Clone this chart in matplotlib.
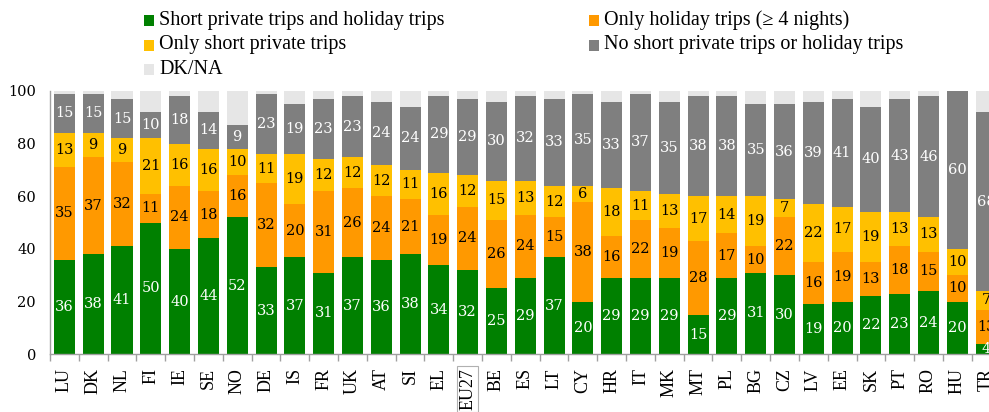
import matplotlib
matplotlib.use("Agg")
import matplotlib.pyplot as plt
from matplotlib.patches import Rectangle
import numpy as np

countries = ["LU", "DK", "NL", "FI", "IE", "SE", "NO", "DE", "IS", "FR", "UK", "AT", "SI", "EL",
             "EU27", "BE", "ES", "LT", "CY", "HR", "IT", "MK", "MT", "PL", "BG", "CZ", "LV", "EE",
             "SK", "PT", "RO", "HU", "TR"]
short_and_holiday = [36, 38, 41, 50, 40, 44, 52, 33, 37, 31, 37, 36, 38, 34,
                     32, 25, 29, 37, 20, 29, 29, 29, 15, 29, 31, 30, 19, 20,
                     22, 23, 24, 20, 4]
only_holiday = [35, 37, 32, 11, 24, 18, 16, 32, 20, 31, 26, 24, 21, 19,
                24, 26, 24, 15, 38, 16, 22, 19, 28, 17, 10, 22, 16, 19,
                13, 18, 15, 10, 13]
only_short = [13, 9, 9, 21, 16, 16, 10, 11, 19, 12, 12, 12, 11, 16,
              12, 15, 13, 12, 6, 18, 11, 13, 17, 14, 19, 7, 22, 17,
              19, 13, 13, 10, 7]
no_trips = [15, 15, 15, 10, 18, 14, 9, 23, 19, 23, 23, 24, 24, 29,
            29, 30, 32, 33, 35, 33, 37, 35, 38, 38, 35, 36, 39, 41,
            40, 43, 46, 60, 68]
dk_na = [1, 1, 3, 8, 2, 8, 13, 1, 5, 3, 2, 4, 6, 2,
         3, 4, 2, 3, 1, 4, 1, 4, 2, 2, 5, 5, 4, 3,
         6, 3, 2, 0, 8]

series_names = ["Short private trips and holiday trips", "Only holiday trips (\u2265 4 nights)",
                "Only short private trips", "No short private trips or holiday trips", "DK/NA"]
colors = ["#008000", "#FF9900", "#FFC000", "#7F7F7F", "#E6E6E6"]
label_colors = ["white", "black", "black", "white", None]

W, H = 989, 412
fig = plt.figure(figsize=(W / 100, H / 100), dpi=100)
ax = fig.add_axes([50 / W, 1 - 354.3 / H, 1 - 50 / W, (354.3 - 91) / H])

serif = "DejaVu Serif"
x = np.arange(len(countries))
data = [short_and_holiday, only_holiday, only_short, no_trips, dk_na]
bottom = np.zeros(len(countries))
for vals, col, lc in zip(data, colors, label_colors):
    v = np.array(vals, dtype=float)
    ax.bar(x, v, bottom=bottom, width=0.73, color=col, edgecolor="none", zorder=2)
    if lc is not None:
        for xi, b, vi in zip(x, bottom, v):
            if vi > 0:
                ax.text(xi, b + vi / 2, f"{int(vi)}", ha="center", va="center",
                        color=lc, fontsize=10.5, family=serif, zorder=3, clip_on=True)
    bottom += v

ax.set_yticks([0, 20, 40, 60, 80, 100])
ax.set_yticklabels(["0", "20", "40", "60", "80", "100"], family=serif, fontsize=10.5)
ax.tick_params(axis="y", length=0, pad=10)

ax.set_xticks(x)
ax.set_xticklabels(countries, rotation=90, family="Liberation Serif", fontsize=13)
ax.set_xticks(np.arange(len(countries) + 1) - 0.5, minor=True)
ax.tick_params(axis="x", which="major", length=0, pad=10)
ax.tick_params(axis="x", which="minor", length=5, color="#A0A0A0", width=1)

ax.set_xlim(-0.5, 32.1)
ax.set_ylim(0, 100)

for lbl in ax.get_xticklabels():
    if lbl.get_text() == "EU27":
        lbl.set_bbox(dict(facecolor="white", edgecolor="#B0B0B0", linewidth=0.8, pad=1.5))

for s in ["top", "right"]:
    ax.spines[s].set_visible(False)
for s in ["left", "bottom"]:
    ax.spines[s].set_color("#A0A0A0")
    ax.spines[s].set_linewidth(1)

# legend (manual, two columns)
legend_pos = [(144, 20), (589, 20), (144, 45), (589, 45), (144, 69)]
for idx, (px, py) in enumerate(legend_pos):
    fig.add_artist(Rectangle((px / W, 1 - (py + 5.5) / H), 10 / W, 11 / H,
                             transform=fig.transFigure, facecolor=colors[idx], edgecolor="none"))
    fig.text((px + 15) / W, 1 - py / H, series_names[idx], ha="left", va="center",
             family="Liberation Serif", fontsize=14.5)

fig.savefig("out.png", dpi=100)
